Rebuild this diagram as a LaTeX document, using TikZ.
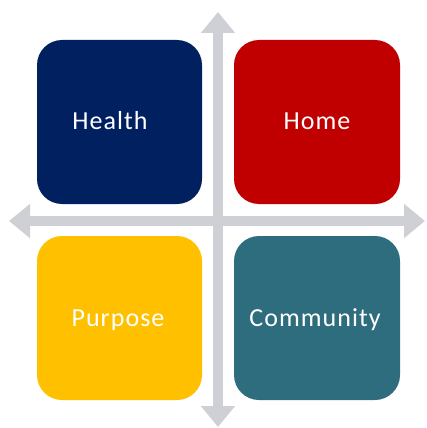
\documentclass[tikz,border=0pt]{standalone}
\usepackage{fontspec}
\setmainfont{Carlito}
\newfontfamily\tilefont[LetterSpace=4]{Carlito}
\usetikzlibrary{arrows.meta}
\definecolor{navy}{HTML}{002060}
\definecolor{darkred}{HTML}{C00000}
\definecolor{gold}{HTML}{FFC000}
\definecolor{teal2}{HTML}{2E6D7D}
\definecolor{axisgray}{HTML}{CFD0D6}
\tikzset{
  tile/.style={rounded corners=25pt, inner sep=0pt},
  label/.style={text=white, font=\tilefont\fontsize{26}{30}\selectfont, inner sep=0pt, anchor=base},
  axis/.style={draw=axisgray, line width=9.5pt,
    {Triangle[width=33pt,length=21pt]}-{Triangle[width=33pt,length=21pt]}},
}
\begin{document}
\begin{tikzpicture}[x=1pt,y=-1pt]
  \useasboundingbox (0,0) rectangle (426,428);
  % tiles
  \fill[navy, tile] (37,40) rectangle (202,204);
  \fill[darkred, tile] (234,40) rectangle (400,204);
  \fill[gold, tile] (37,236) rectangle (202,400);
  \fill[teal2, tile] (234,236) rectangle (400,400);
  % labels
  \node[label] (health) at (110,129) {Health};
  \node[label] (home) at (317,129) {Home};
  \node[label] (purpose) at (118,326) {Purpose};
  \node[label] (community) at (315,326) {Community};
  % axes
  \coordinate (top) at (218,12);
  \coordinate (bottom) at (218,427);
  \coordinate (left) at (9,221);
  \coordinate (right) at (425,221);
  \draw[axis] (bottom) -- (top);
  \draw[axis] (left) -- (right);
\end{tikzpicture}
\end{document}
